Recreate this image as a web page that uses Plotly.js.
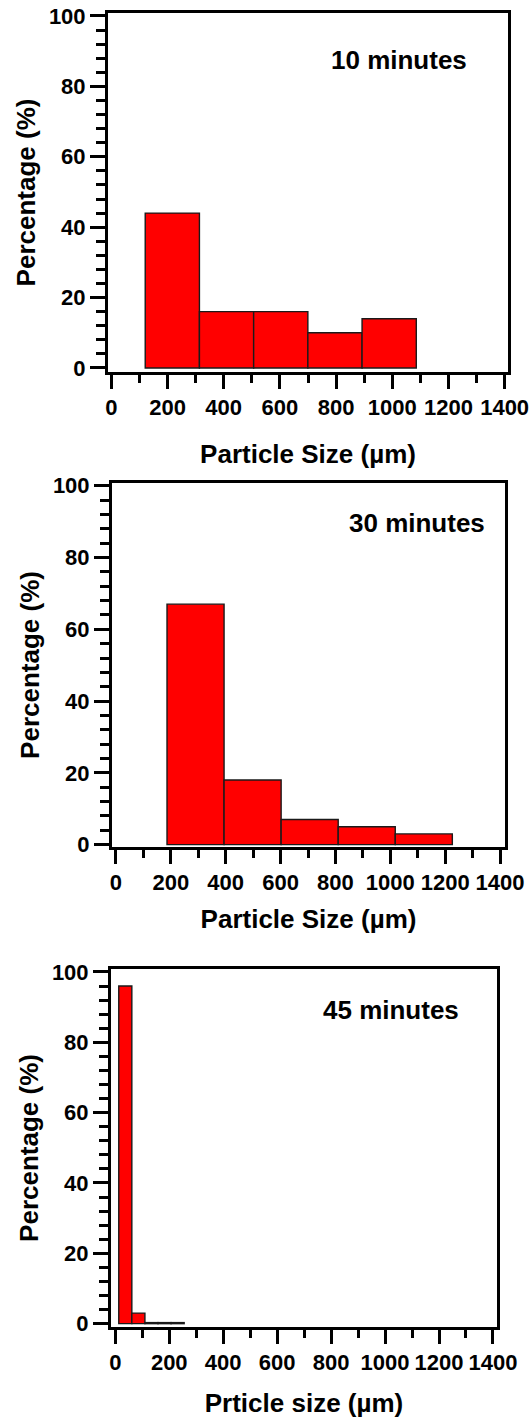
<!DOCTYPE html>
<html>
<head>
<meta charset="utf-8">
<script src="https://cdn.plot.ly/plotly-3.0.1.min.js"></script>
<style>html,body{margin:0;padding:0;background:#fff;}#chart{width:531px;height:1418px;}</style>
</head>
<body>
<div id="chart"></div>
<script>
// ---- data ----
const xTickVals = [0, 200, 400, 600, 800, 1000, 1200, 1400];
const yTickVals = [0, 20, 40, 60, 80, 100];

const size10 = [217, 410, 603, 796, 989];
const pct10 = [44, 16, 16, 10, 14];
const binWidth10 = 193;

const size30 = [290, 498, 706, 914, 1122];
const pct30 = [67, 18, 7, 5, 3];
const binWidth30 = 208;

const size45 = [37, 85.5, 134, 182.5, 231];
const pct45 = [96, 3, 0.3, 0.3, 0.3];
const binWidth45 = 48.5;

const panelLabels = ['10 minutes', '30 minutes', '45 minutes'];
const xTitles = ['Particle Size (µm)', 'Particle Size (µm)', 'Prticle size (µm)'];
const yTitle = 'Percentage (%)';

// ---- build ----
const W = 531, H = 1418;
const FONT = '"Liberation Sans", Arial, sans-serif';
function px2x(p) { return p / W; }
function px2y(p) { return 1 - p / H; }

function barTrace(x, y, w, ax) {
  return {
    type: 'bar', x: x, y: y, width: w,
    xaxis: 'x' + ax, yaxis: 'y' + ax,
    marker: { color: '#ff0000', line: { color: '#1a1a1a', width: 1.4 } },
    showlegend: false, hoverinfo: 'x+y'
  };
}

const data = [
  barTrace(size10, pct10, binWidth10, ''),
  barTrace(size30, pct30, binWidth30, '2'),
  barTrace(size45, pct45, binWidth45, '3')
];

// panel frames in pixels: [left, right, top, bottom]
const frames = [
  [108, 508, 13, 372],
  [112, 505, 483, 847],
  [111, 497, 969, 1327]
];
const yRanges = [[-1.15, 100.85], [-0.65, 100.75], [-0.95, 100.85]];
const xRanges = [[-12, 1412], [-14.5, 1418], [-16, 1415]];
const xStandoff = [26, 16, 24];

function xAxis(i) {
  return {
    domain: [px2x(frames[i][0]), px2x(frames[i][1])],
    anchor: i === 0 ? 'y' : 'y' + (i + 1),
    range: xRanges[i],
    tickmode: 'array', tickvals: xTickVals,
    ticks: 'outside', ticklen: 14, tickwidth: 3, tickcolor: '#000',
    showline: true, linewidth: 3, linecolor: '#000', mirror: true,
    showgrid: false, zeroline: false,
    minor: { dtick: 100, tick0: 0, ticks: 'outside', ticklen: 8, tickwidth: 3, tickcolor: '#000', showgrid: false },
    tickfont: { family: FONT, size: 22, color: '#000', weight: 'bold' },
    title: { text: xTitles[i], font: { family: FONT, size: 26, color: '#000', weight: 'bold' }, standoff: xStandoff[i] },
    fixedrange: true
  };
}
function yAxis(i) {
  return {
    domain: [px2y(frames[i][3]), px2y(frames[i][2])],
    anchor: i === 0 ? 'x' : 'x' + (i + 1),
    range: yRanges[i],
    tickmode: 'array', tickvals: yTickVals,
    ticks: 'outside', ticklen: 15, tickwidth: 3, tickcolor: '#000',
    showline: true, linewidth: 3, linecolor: '#000', mirror: true,
    showgrid: false, zeroline: false,
    minor: { dtick: 4, tick0: 0, ticks: 'outside', ticklen: 9, tickwidth: 3, tickcolor: '#000', showgrid: false },
    tickfont: { family: FONT, size: 22, color: '#000', weight: 'bold' },
    title: { text: yTitle, font: { family: FONT, size: 26, color: '#000', weight: 'bold' }, standoff: 6 },
    fixedrange: true
  };
}

const labelPos = [[399, 60], [417, 523], [391, 1010]];
const annotations = panelLabels.map((t, i) => ({
  text: t, xref: 'paper', yref: 'paper',
  x: px2x(labelPos[i][0]), y: px2y(labelPos[i][1]),
  xanchor: 'center', yanchor: 'middle', showarrow: false,
  font: { family: FONT, size: 26, color: '#000', weight: 'bold' }
}));

const layout = {
  width: W, height: H,
  margin: { l: 0, r: 0, t: 0, b: 0 },
  paper_bgcolor: '#fff', plot_bgcolor: '#fff',
  font: { family: FONT, color: '#000' },
  bargap: 0,
  xaxis: xAxis(0), yaxis: yAxis(0),
  xaxis2: xAxis(1), yaxis2: yAxis(1),
  xaxis3: xAxis(2), yaxis3: yAxis(2),
  annotations: annotations
};

Plotly.newPlot('chart', data, layout, { displayModeBar: false, staticPlot: true });
</script>
</body>
</html>
